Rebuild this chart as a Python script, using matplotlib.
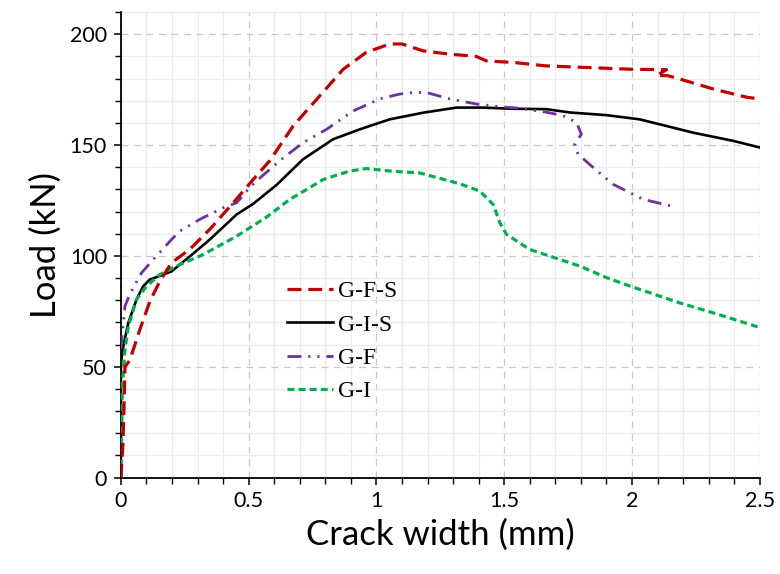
import matplotlib
matplotlib.use("Agg")
import matplotlib.pyplot as plt
from matplotlib.ticker import MultipleLocator

plt.rcParams['lines.scale_dashes'] = False

# ---- data (crack width in mm, load in kN) ----
gfs_x = [0, 0.008, 0.013, 0.016, 0.035, 0.074, 0.114, 0.153, 0.198, 0.27, 0.348, 0.44, 0.518,
         0.583, 0.674, 0.779, 0.87, 0.96, 1.052, 1.1, 1.183, 1.287, 1.39, 1.43, 1.496, 1.535,
         1.665, 1.822, 1.994, 2.135, 2.096, 2.14, 2.187, 2.318, 2.448, 2.5]
gfs_y = [0, 15, 35, 50, 53, 66.7, 79.7, 88.7, 96.9, 103, 112, 124, 134.5,
         143, 158.6, 172.3, 184.2, 191.8, 195.6, 195.6, 192.5, 191, 190, 188, 187.5, 187.3,
         185.7, 185, 184.2, 184, 181.3, 181.3, 179.8, 175.3, 171.6, 170.8]

gis_x = [0, 0, 0.009, 0.029, 0.061, 0.087, 0.113, 0.166, 0.198, 0.27, 0.348, 0.453, 0.518,
         0.609, 0.713, 0.83, 0.935, 1.052, 1.183, 1.313, 1.418, 1.522, 1.665, 1.757, 1.9,
         2.03, 2.135, 2.239, 2.396, 2.5]
gis_y = [0, 51.8, 59, 69.8, 80.3, 86.3, 89.3, 91.6, 93, 99.8, 107.4, 118.7, 123.5,
         132, 143.6, 152.6, 157.1, 161.6, 164.6, 166.9, 166.9, 166.4, 166.2, 164.7, 163.5,
         161.6, 158.6, 155.6, 151.9, 148.9]

gf_x = [0, 0.003, 0.016, 0.035, 0.055, 0.081, 0.127, 0.198, 0.231, 0.309, 0.4, 0.453, 0.505,
        0.531, 0.622, 0.713, 0.805, 0.909, 1.013, 1.091, 1.143, 1.196, 1.287, 1.392, 1.483,
        1.561, 1.665, 1.73, 1.783, 1.802, 1.776, 1.789, 1.848, 1.926, 2.044, 2.155]
gf_y = [58, 62.3, 77.4, 82.6, 87, 92.4, 98.4, 107.4, 111.2, 116.5, 121.7, 124, 130.9,
        133.8, 143, 151.1, 157.1, 165.4, 170.8, 173, 173.7, 173.7, 170.8, 168.5, 167.3,
        166.6, 164.8, 163.3, 160.2, 154.9, 150.4, 145.9, 139.9, 132.3, 125.5, 122.5]

gi_x = [0, 0.002, 0.006, 0.016, 0.029, 0.061, 0.1, 0.153, 0.218, 0.322, 0.453, 0.57, 0.661,
        0.713, 0.792, 0.896, 0.961, 1.052, 1.17, 1.287, 1.339, 1.405, 1.457, 1.483, 1.509,
        1.6, 1.796, 1.9, 1.992, 2.187, 2.318, 2.5]
gi_y = [0, 12.5, 42.6, 57.7, 68.3, 80.3, 86.3, 91.6, 95.4, 100.6, 108.9, 117.5, 125.5,
        129, 134.5, 138.3, 139.4, 138.3, 137.4, 133.8, 132, 129.2, 123.2, 115, 109.7,
        102.9, 95.4, 90.2, 86.4, 78.8, 74.3, 67.7]

labels = ["G-F-S", "G-I-S", "G-F", "G-I"]
x_ticks = [0, 0.5, 1, 1.5, 2, 2.5]
x_tick_labels = ["0", "0.5", "1", "1.5", "2", "2.5"]
y_ticks = [0, 50, 100, 150, 200]

fig = plt.figure(figsize=(7.8, 5.74), dpi=100)
ax = fig.add_axes([0.155, 0.168, 0.819, 0.811])

ax.plot(gfs_x, gfs_y, color="#C00000", lw=2.3, linestyle=(0, (10, 5)), label=labels[0], zorder=4)
ax.plot(gis_x, gis_y, color="black", lw=1.9, linestyle="-", label=labels[1], zorder=3)
ax.plot(gf_x, gf_y, color="#7030A0", lw=2.0, linestyle=(0, (10, 5, 1.5, 5, 1.5, 5)),
        label=labels[2], zorder=3)
ax.plot(gi_x, gi_y, color="#00B050", lw=2.3, linestyle=(0, (5, 3)), label=labels[3], zorder=3)

ax.set_xlim(0, 2.5)
ax.set_ylim(0, 210)
ax.set_xticks(x_ticks)
ax.set_xticklabels(x_tick_labels)
ax.set_yticks(y_ticks)
ax.xaxis.set_minor_locator(MultipleLocator(0.1))
ax.yaxis.set_minor_locator(MultipleLocator(10))

ax.grid(which="minor", color="#ebebeb", lw=0.9, linestyle="-", zorder=0)
ax.grid(which="major", color="#c8c8c8", lw=0.9, linestyle=(0, (5, 4)), zorder=0)
ax.set_axisbelow(True)

for s in ["top", "right"]:
    ax.spines[s].set_visible(False)
for s in ["left", "bottom"]:
    ax.spines[s].set_linewidth(1.3)
    ax.spines[s].set_color("black")

ax.tick_params(which="major", direction="out", length=5, width=1.1, labelsize=15.5,
               colors="black", pad=5)
ax.tick_params(which="minor", direction="out", length=4, width=1.0)
for lab in ax.get_xticklabels() + ax.get_yticklabels():
    lab.set_fontfamily("Lato")

ax.set_xlabel("Crack width (mm)", fontsize=25, family="Lato", labelpad=5)
ax.set_ylabel("Load (kN)", fontsize=25, family="Lato", labelpad=6)

leg = ax.legend(loc="upper left", bbox_to_anchor=(0.245, 0.443), frameon=False,
                prop={"family": "Liberation Serif", "size": 17},
                handlelength=1.95, handletextpad=0.2, labelspacing=0.5, borderaxespad=0)

fig.savefig("out.png", dpi=100)
